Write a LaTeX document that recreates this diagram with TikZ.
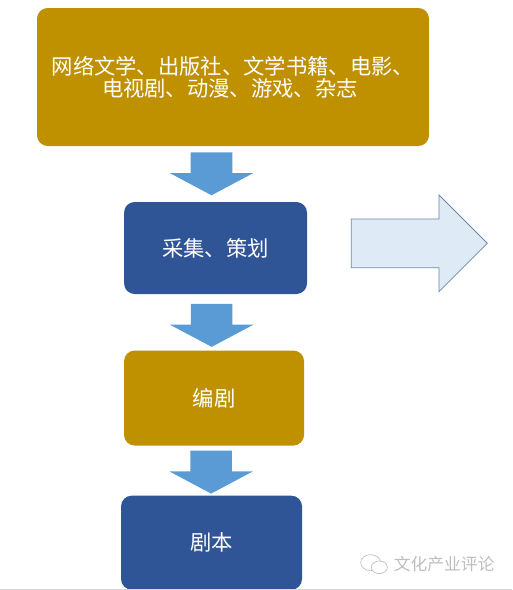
\documentclass[tikz,border=0pt]{standalone}
\usepackage{fontspec}
\setmainfont{Noto Sans CJK SC}
\usetikzlibrary{calc, shapes.arrows, shapes.geometric}
\definecolor{ochre}{HTML}{BF9000}
\definecolor{navy}{HTML}{2F5597}
\definecolor{skyblue}{HTML}{5B9BD5}
\definecolor{paleblue}{HTML}{DEEAF6}
\definecolor{steel}{HTML}{6F87A3}
\definecolor{markgray}{HTML}{BEBEBE}
\begin{document}
\begin{tikzpicture}[
    box/.style={
        fill=#1, rounded corners=8pt, inner sep=0pt,
        font=\fontsize{16}{16.5}\selectfont, align=center, text=white
    },
    downarrow/.style={
        single arrow, fill=skyblue, rotate=-90, anchor=tail,
        minimum height=32.25pt, inner xsep=0pt, inner ysep=15.4pt, outer sep=0pt,
        single arrow head extend=15.7pt, single arrow tip angle=124
    },
    sidearrow/.style={
        single arrow, draw=steel, fill=paleblue, line width=0.6pt, anchor=tail,
        minimum height=102pt, inner xsep=0pt, inner ysep=18pt, outer sep=0pt,
        single arrow head extend=18pt, single arrow tip angle=90
    },
    bubble/.style={
        ellipse, draw=markgray, fill=white, line width=0.5pt, inner sep=0pt
    }
]

\useasboundingbox (0,0) rectangle (384pt,-442.5pt);

% === Boxes (top to bottom) ===

% Sources
\node[box=ochre, minimum width=294pt, minimum height=103.5pt] (source)
    at (174.75pt,-57.75pt) {网络文学、出版社、文学书籍、电影、\\\hspace*{-4.5pt}电视剧、动漫、游戏、杂志};

% Planning
\node[box=navy, minimum width=137.25pt, minimum height=69pt, anchor=north] (planning)
    at ($(source.south)+(-13.1pt,-41.6pt)$) {采集、策划};

% Writing
\node[box=ochre, minimum width=135pt, minimum height=71.25pt, anchor=north] (writing)
    at ($(planning.south)+(-1.1pt,-42pt)$) {编剧};

% Script
\node[box=navy, minimum width=135.75pt, minimum height=70.5pt, anchor=north] (script)
    at ($(writing.south)+(-1.9pt,-37.2pt)$) {\raisebox{-1.5pt}{剧本}};

% === Block arrows ===

\node[downarrow] (arrowa) at ($(source.south)+(-16.1pt,-4.5pt)$) {};
\node[downarrow] (arrowb) at ($(planning.south)+(-2.9pt,-7.2pt)$) {};
\node[downarrow] (arrowc) at ($(writing.south)+(-2.2pt,-3.6pt)$) {};

% Arrow to the right of planning
\node[sidearrow] (arrowside) at ($(planning.east)+(33pt,3.5pt)$) {};

% === Watermark ===

\node[bubble, minimum width=15pt, minimum height=12pt] (bubblea) at (278pt,-422pt) {};
\node[bubble, minimum width=12pt, minimum height=9.5pt] (bubbleb) at (284.5pt,-425.5pt) {};
\node[text=markgray, font=\fontsize{12.6}{14}\selectfont, anchor=west] (mark)
    at (291.8pt,-423pt) {文化产业评论};

% Bottom rule
\coordinate (rulel) at (0,-442.2pt);
\coordinate (ruler) at (384pt,-442.2pt);
\draw[markgray!60, line width=0.5pt] (rulel) -- (ruler);

\end{tikzpicture}
\end{document}
